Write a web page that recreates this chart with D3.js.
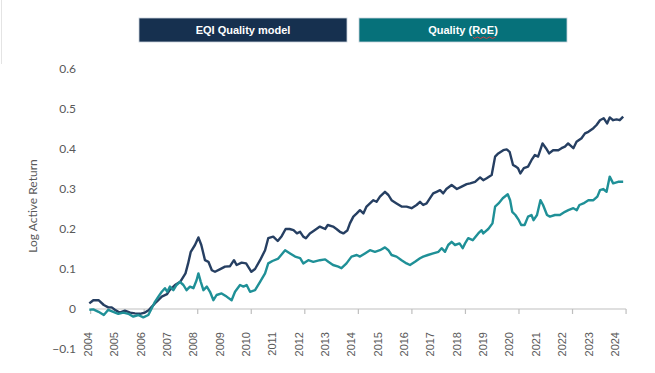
<!DOCTYPE html>
<html>
<head>
<meta charset="utf-8">
<script src="https://cdn.jsdelivr.net/npm/d3@7"></script>
<style>
    body { margin: 0; background: #fff; }
    svg { display: block; }
    .yTick { font-family: Lato, "Open Sans", sans-serif; font-size: 12px; fill: #595959; }
    .xTick { font-family: "Liberation Sans", Arial, sans-serif; font-size: 11px; fill: #595959; }
    .axisTitle { font-family: Lato, "Open Sans", sans-serif; font-size: 12px; fill: #595959; }
    .legendText { font-family: "Liberation Sans Narrow", "Liberation Sans", sans-serif; font-size: 11px; font-weight: bold; fill: #fff; }
</style>
</head>
<body>
<svg id="chart" width="655" height="373"></svg>
<script>
/*
 Data (decimal year, log active return)
 */

var seriesNames = ['EQI Quality model', 'Quality (RoE)'];
var seriesColors = ['#263f62', '#1f9097'];
var legendColors = ['#16304f', '#06717a'];

var yearLabels = ['2004', '2005', '2006', '2007', '2008', '2009', '2010', '2011', '2012', '2013', '2014',
    '2015', '2016', '2017', '2018', '2019', '2020', '2021', '2022', '2023', '2024'];
var yTicks = [-0.1, 0, 0.1, 0.2, 0.3, 0.4, 0.5, 0.6];

var eqiModel = [
    [2004.05, 0.014], [2004.2, 0.022], [2004.4, 0.022], [2004.6, 0.010], [2004.77, 0.004], [2004.9, 0.004],
    [2005.02, -0.002], [2005.2, -0.009], [2005.4, -0.004], [2005.6, -0.009], [2005.78, -0.011], [2005.97, -0.012],
    [2006.16, -0.009], [2006.3, -0.003], [2006.4, 0.004], [2006.6, 0.018], [2006.8, 0.031], [2007.0, 0.037],
    [2007.1, 0.047], [2007.3, 0.060], [2007.5, 0.068], [2007.7, 0.089], [2007.8, 0.114], [2007.9, 0.143],
    [2008.06, 0.160], [2008.19, 0.179], [2008.3, 0.160], [2008.44, 0.122], [2008.57, 0.118], [2008.7, 0.097],
    [2008.82, 0.093], [2009.0, 0.099], [2009.2, 0.106], [2009.39, 0.107], [2009.54, 0.122], [2009.64, 0.110],
    [2009.83, 0.116], [2010.0, 0.114], [2010.2, 0.093], [2010.34, 0.100], [2010.53, 0.122], [2010.72, 0.147],
    [2010.84, 0.177], [2011.03, 0.181], [2011.2, 0.170], [2011.35, 0.182], [2011.5, 0.200], [2011.65, 0.200],
    [2011.8, 0.197], [2011.93, 0.189], [2012.05, 0.193], [2012.17, 0.181], [2012.27, 0.177], [2012.42, 0.189],
    [2012.6, 0.197], [2012.8, 0.206], [2013.0, 0.200], [2013.1, 0.210], [2013.3, 0.206], [2013.43, 0.200],
    [2013.56, 0.193], [2013.69, 0.189], [2013.84, 0.196], [2013.94, 0.214], [2014.07, 0.231], [2014.2, 0.239],
    [2014.32, 0.247], [2014.45, 0.239], [2014.57, 0.256], [2014.7, 0.264], [2014.83, 0.272], [2014.95, 0.268],
    [2015.08, 0.281], [2015.27, 0.293], [2015.4, 0.285], [2015.52, 0.272], [2015.71, 0.264], [2015.9, 0.256],
    [2016.09, 0.256], [2016.28, 0.252], [2016.47, 0.260], [2016.6, 0.268], [2016.72, 0.260], [2016.85, 0.264],
    [2016.98, 0.277], [2017.1, 0.289], [2017.23, 0.293], [2017.36, 0.297], [2017.48, 0.289], [2017.6, 0.300],
    [2017.8, 0.310], [2018.0, 0.300], [2018.18, 0.306], [2018.37, 0.312], [2018.5, 0.314], [2018.69, 0.318],
    [2018.88, 0.329], [2019.0, 0.322], [2019.13, 0.327], [2019.32, 0.335], [2019.45, 0.381], [2019.57, 0.389],
    [2019.76, 0.397], [2019.89, 0.399], [2020.0, 0.393], [2020.13, 0.360], [2020.24, 0.356], [2020.32, 0.352],
    [2020.41, 0.339], [2020.54, 0.352], [2020.7, 0.356], [2020.83, 0.372], [2020.96, 0.385], [2021.08, 0.381],
    [2021.25, 0.414], [2021.38, 0.402], [2021.5, 0.389], [2021.65, 0.397], [2021.85, 0.397], [2021.97, 0.402],
    [2022.1, 0.406], [2022.22, 0.414], [2022.42, 0.402], [2022.54, 0.418], [2022.73, 0.427], [2022.86, 0.439],
    [2022.99, 0.443], [2023.18, 0.452], [2023.3, 0.460], [2023.43, 0.472], [2023.57, 0.477], [2023.7, 0.464],
    [2023.8, 0.479], [2023.93, 0.472], [2024.06, 0.474], [2024.18, 0.472], [2024.31, 0.481]
];

var qualityRoe = [
    [2004.05, -0.002], [2004.2, -0.001], [2004.4, -0.007], [2004.6, -0.015], [2004.77, -0.002], [2004.96, -0.007],
    [2005.15, -0.012], [2005.34, -0.009], [2005.53, -0.012], [2005.72, -0.019], [2005.91, -0.015], [2006.1, -0.021],
    [2006.29, -0.015], [2006.42, 0.002], [2006.54, 0.018], [2006.67, 0.031], [2006.8, 0.043], [2006.92, 0.052],
    [2007.01, 0.043], [2007.11, 0.056], [2007.24, 0.047], [2007.36, 0.060], [2007.49, 0.068], [2007.62, 0.060],
    [2007.74, 0.047], [2007.87, 0.056], [2008.0, 0.052], [2008.12, 0.072], [2008.19, 0.089], [2008.28, 0.068],
    [2008.38, 0.047], [2008.51, 0.056], [2008.63, 0.043], [2008.76, 0.022], [2008.88, 0.035], [2009.07, 0.039],
    [2009.26, 0.031], [2009.45, 0.022], [2009.58, 0.043], [2009.77, 0.060], [2009.9, 0.056], [2010.02, 0.060],
    [2010.15, 0.043], [2010.34, 0.047], [2010.53, 0.068], [2010.72, 0.089], [2010.84, 0.114], [2011.0, 0.120],
    [2011.22, 0.126], [2011.48, 0.147], [2011.67, 0.139], [2011.86, 0.131], [2012.05, 0.127], [2012.17, 0.114],
    [2012.36, 0.122], [2012.55, 0.118], [2012.8, 0.122], [2013.0, 0.124], [2013.12, 0.118], [2013.3, 0.110],
    [2013.5, 0.106], [2013.62, 0.102], [2013.81, 0.114], [2014.0, 0.131], [2014.2, 0.135], [2014.32, 0.131],
    [2014.51, 0.139], [2014.7, 0.147], [2014.89, 0.143], [2015.08, 0.147], [2015.27, 0.154], [2015.4, 0.147],
    [2015.52, 0.135], [2015.71, 0.131], [2015.9, 0.122], [2016.09, 0.114], [2016.22, 0.110], [2016.41, 0.118],
    [2016.6, 0.127], [2016.72, 0.131], [2016.9, 0.135], [2017.1, 0.139], [2017.3, 0.143], [2017.42, 0.152],
    [2017.55, 0.143], [2017.67, 0.160], [2017.8, 0.168], [2017.93, 0.160], [2018.1, 0.164], [2018.22, 0.152],
    [2018.31, 0.164], [2018.43, 0.177], [2018.6, 0.172], [2018.81, 0.189], [2018.94, 0.197], [2019.0, 0.189],
    [2019.19, 0.200], [2019.35, 0.214], [2019.45, 0.256], [2019.58, 0.264], [2019.74, 0.277], [2019.93, 0.287],
    [2020.02, 0.272], [2020.1, 0.243], [2020.22, 0.235], [2020.35, 0.222], [2020.44, 0.210], [2020.57, 0.210],
    [2020.7, 0.231], [2020.83, 0.235], [2020.91, 0.222], [2021.04, 0.235], [2021.17, 0.272], [2021.27, 0.260],
    [2021.42, 0.235], [2021.53, 0.231], [2021.72, 0.235], [2021.91, 0.235], [2022.1, 0.243], [2022.23, 0.247],
    [2022.42, 0.252], [2022.55, 0.247], [2022.65, 0.260], [2022.8, 0.264], [2022.99, 0.272], [2023.18, 0.272],
    [2023.33, 0.281], [2023.43, 0.297], [2023.55, 0.300], [2023.68, 0.293], [2023.8, 0.331], [2023.93, 0.314],
    [2024.12, 0.318], [2024.31, 0.318]
];

var AXIS_START = 2004.1;
var AXIS_END = 2024.42;

var svg = d3.select('#chart');

var x = d3.scaleLinear().domain([2004, 2024]).range([88, 615]);
var y = d3.scaleLinear().domain([0, 0.6]).range([309, 69]);

/*
 Frame edge and legend
 */

svg.append('line')
    .attr('x1', 1.5).attr('x2', 1.5)
    .attr('y1', 0).attr('y2', 64)
    .attr('stroke', '#e4e4e4')
    .attr('stroke-width', 1);

var legend = svg.selectAll('.legend')
    .data(seriesNames)
    .enter().append('g')
    .classed('legend', true)
    .attr('transform', function (d, i) {
        return 'translate(' + (139 + i * 220) + ',18)';
    });

legend.append('rect')
    .attr('width', 208)
    .attr('height', 24)
    .attr('fill', function (d, i) {
        return legendColors[i];
    })
    .attr('stroke', '#c9d3dc')
    .attr('stroke-width', 0.8);

legend.append('text')
    .classed('legendText', true)
    .attr('x', 104)
    .attr('y', 12)
    .attr('dy', '0.35em')
    .attr('text-anchor', 'middle')
    .text(function (d) {
        return d;
    });

// spell-check squiggle under "RoE"
var squiggle = d3.path();
squiggle.moveTo(473, 37);
for (var k = 0; k < 8; k++) {
    squiggle.lineTo(474.5 + k * 3, k % 2 === 0 ? 38.5 : 37);
}
svg.append('path')
    .attr('d', squiggle.toString())
    .attr('fill', 'none')
    .attr('stroke', '#e03a3a')
    .attr('stroke-width', 0.9);

/*
 Axes
 */

svg.append('g')
    .selectAll('text')
    .data(yTicks)
    .enter().append('text')
    .classed('yTick', true)
    .attr('x', 76)
    .attr('y', function (d) {
        return y(d);
    })
    .attr('dy', '0.35em')
    .attr('text-anchor', 'end')
    .text(function (d) {
        return d === 0 ? '0' : d3.format('.1f')(d);
    });

svg.append('text')
    .classed('axisTitle', true)
    .attr('transform', 'translate(37,206) rotate(-90)')
    .attr('text-anchor', 'middle')
    .text('Log Active Return');

svg.append('line')
    .attr('x1', x(AXIS_START)).attr('x2', x(AXIS_END))
    .attr('y1', y(0)).attr('y2', y(0))
    .attr('stroke', '#bfbfbf')
    .attr('stroke-width', 1.2);

var tickYears = d3.range(11).map(function (i) {
    return AXIS_START + i * (AXIS_END - AXIS_START) / 10;
});

svg.append('g')
    .selectAll('line')
    .data(tickYears)
    .enter().append('line')
    .attr('x1', function (d) { return x(d); })
    .attr('x2', function (d) { return x(d); })
    .attr('y1', y(0))
    .attr('y2', y(0) + 5)
    .attr('stroke', '#bfbfbf')
    .attr('stroke-width', 1.2);

svg.append('g')
    .selectAll('text')
    .data(yearLabels)
    .enter().append('text')
    .classed('xTick', true)
    .attr('transform', function (d) {
        return 'translate(' + x(+d) + ',332) rotate(-90)';
    })
    .attr('dy', '0.35em')
    .attr('text-anchor', 'end')
    .text(function (d) {
        return d;
    });

/*
 Lines
 */

var line = d3.line()
    .x(function (d) { return x(d[0]); })
    .y(function (d) { return y(d[1]); })
    .curve(d3.curveLinear);

svg.selectAll('.series')
    .data([eqiModel, qualityRoe])
    .enter().append('path')
    .classed('series', true)
    .attr('d', line)
    .attr('fill', 'none')
    .attr('stroke', function (d, i) {
        return seriesColors[i];
    })
    .attr('stroke-width', 2.4)
    .attr('stroke-linejoin', 'round');
</script>
</body>
</html>
